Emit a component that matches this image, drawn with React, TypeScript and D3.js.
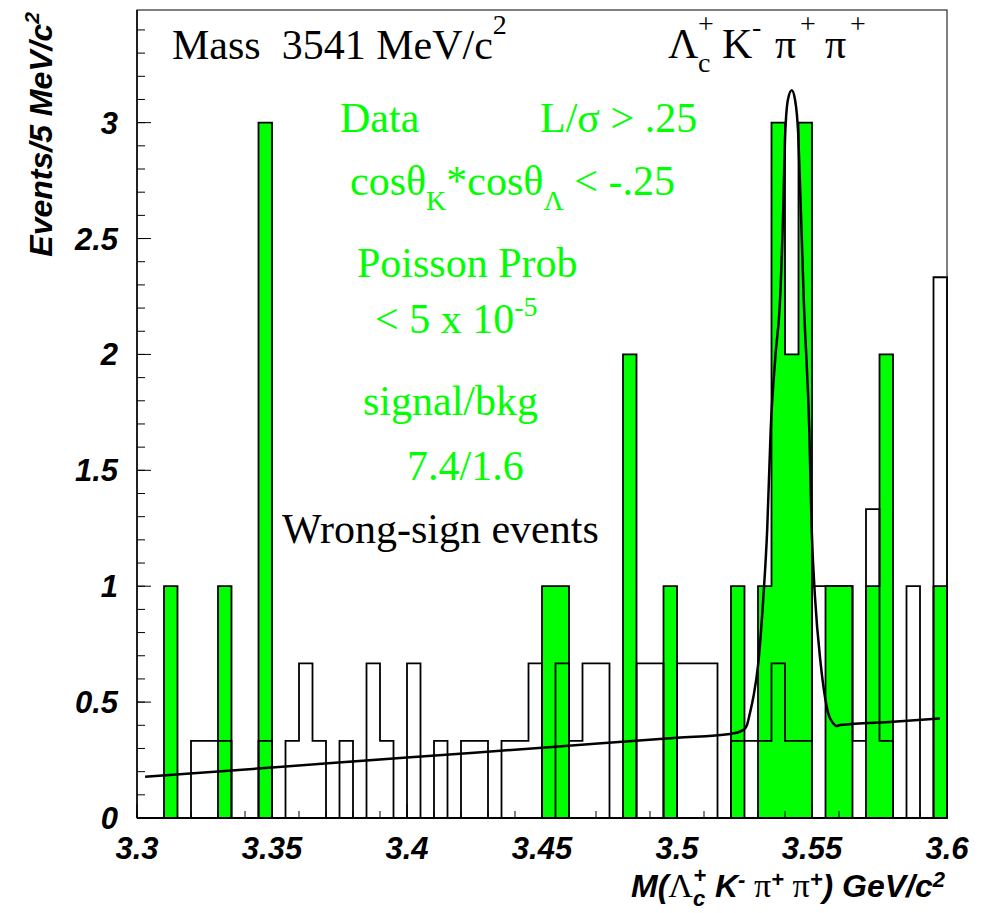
import React from "react";
import * as d3 from "d3";

// histogram binning: 60 bins of 5 MeV from 3.3 to 3.6 GeV
const binLow = 3.3;
const binWidth = 0.005;

// data (right-sign) events per bin
const dataCounts = [
  0, 0, 1, 0, 0, 0, 1, 0, 0, 3,
  0, 0, 0, 0, 0, 0, 0, 0, 0, 0,
  0, 0, 0, 0, 0, 0, 0, 0, 0, 0,
  1, 1, 0, 0, 0, 0, 2, 0, 0, 1,
  0, 0, 0, 0, 1, 0, 1, 3, 2, 3,
  0, 1, 1, 0, 1, 2, 0, 0, 0, 1,
];

// wrong-sign events per bin (normalised, in thirds of an event)
const wrongSign = [
  0, 0, 0, 0, 0.333, 0.333, 0.333, 0, 0, 0.333,
  0, 0.333, 0.667, 0.333, 0, 0.333, 0, 0.667, 0.333, 0,
  0.667, 0, 0.333, 0, 0.333, 0.333, 0, 0.333, 0.333, 0.667,
  0, 0.667, 0.333, 0.667, 0.667, 0, 0, 0.667, 0.667, 0,
  0.667, 0.667, 0.667, 0, 0.333, 0.333, 0.333, 0.667, 0.333, 0.333,
  1, 1, 1, 0.333, 1.333, 0.333, 0, 1, 0, 2.333,
];

// fit curve (linear background + signal peak)
const fitMass = [
  3.303, 3.35, 3.4, 3.45, 3.5, 3.5196, 3.5246, 3.5259, 3.527, 3.5283,
  3.5301, 3.532, 3.5334, 3.5347, 3.5365, 3.5381, 3.5394, 3.54, 3.5411, 3.5425,
  3.5437, 3.5449, 3.5458, 3.547, 3.549, 3.5499, 3.5511, 3.5532, 3.5548, 3.556,
  3.5579, 3.5592, 3.5604, 3.58, 3.5974,
];
const fitEvents = [
  0.178, 0.218, 0.261, 0.303, 0.346, 0.362, 0.38, 0.4, 0.452, 0.523,
  0.667, 0.955, 1.242, 1.674, 2.0, 2.22, 2.65, 2.93, 3.1, 3.14,
  3.1, 2.95, 2.65, 2.22, 1.674, 1.242, 0.955, 0.667, 0.523, 0.452,
  0.408, 0.397, 0.401, 0.415, 0.429,
];

const xTicks = [3.3, 3.35, 3.4, 3.45, 3.5, 3.55, 3.6];
const xTickLabels = ["3.3", "3.35", "3.4", "3.45", "3.5", "3.55", "3.6"];
const yTicks = [0, 0.5, 1, 1.5, 2, 2.5, 3];
const yTickLabels = ["0", "0.5", "1", "1.5", "2", "2.5", "3"];

const GREEN = "#00ff00";
const SERIF = "'Liberation Serif', 'Times New Roman', serif";
const SANS = "'Liberation Sans', Arial, sans-serif";

export default function App() {
  const left = 137, right = 947, top = 10, bottom = 818;
  const x = d3.scaleLinear().domain([3.3, 3.6]).range([left, right]);
  const y = d3.scaleLinear().domain([0, 3.486]).range([bottom, top]);

  const binPoints = (vals: number[]) => {
    const pts: [number, number][] = vals.map((v, i) => [binLow + i * binWidth, v]);
    pts.push([binLow + vals.length * binWidth, vals[vals.length - 1]]);
    return pts;
  };

  const area = d3.area<[number, number]>()
    .x(d => x(d[0]))
    .y0(y(0))
    .y1(d => y(d[1]))
    .curve(d3.curveStepAfter);

  const step = d3.line<[number, number]>()
    .x(d => x(d[0]))
    .y(d => y(d[1]))
    .curve(d3.curveStepAfter);

  // close the wrong-sign contour down to zero at both ends
  const wsPts = binPoints(wrongSign);
  const wsPath = `M${x(binLow)},${y(0)}` + step(wsPts)!.replace(/^M/, "L") + `L${x(3.6)},${y(0)}`;

  const fitLine = d3.line<number>()
    .x((d, i) => x(fitMass[i]))
    .y(d => y(d))
    .curve(d3.curveMonotoneX);

  const yMinor = d3.range(0, 3.45, 0.1);
  const xMinor = d3.range(0, 31).map(i => 3.3 + i * 0.01);

  return (
    <svg width={982} height={913} style={{ position: "absolute", left: 0, top: 0, background: "#fff" }}>
      <rect x={0} y={0} width={982} height={913} fill="#fff" />

      {/* data histogram */}
      <path d={area(binPoints(dataCounts))!} fill={GREEN} stroke="#000" strokeWidth={1.8} />
      {/* wrong-sign histogram */}
      <path d={wsPath} fill="none" stroke="#000" strokeWidth={1.8} />
      {/* fit */}
      <path d={fitLine(fitEvents)!} fill="none" stroke="#000" strokeWidth={2.5} />

      {/* frame */}
      <rect x={left} y={top} width={right - left} height={bottom - top} fill="none" stroke="#000" strokeWidth={1} />
      <line x1={left} x2={left} y1={top} y2={bottom} stroke="#000" strokeWidth={1.5} />
      <line x1={left} x2={right} y1={bottom} y2={bottom} stroke="#000" strokeWidth={1.5} />

      {/* y ticks */}
      {yMinor.map((v, i) => (
        <line key={"ym" + i} x1={left} x2={left + 8} y1={y(v)} y2={y(v)} stroke="#000" strokeWidth={1} />
      ))}
      {yTicks.map((v, i) => (
        <g key={"yt" + i}>
          <line x1={left} x2={left + 14} y1={y(v)} y2={y(v)} stroke="#000" strokeWidth={1} />
          <text x={118} y={y(v) + 11} textAnchor="end" fontFamily={SANS} fontWeight="bold" fontStyle="italic" fontSize={31}>
            {yTickLabels[i]}
          </text>
        </g>
      ))}

      {/* x ticks */}
      {xMinor.map((v, i) => (
        <line key={"xm" + i} x1={x(v)} x2={x(v)} y1={bottom} y2={bottom - 7} stroke="#000" strokeWidth={1} />
      ))}
      {xTicks.map((v, i) => (
        <g key={"xt" + i}>
          <line x1={x(v)} x2={x(v)} y1={bottom} y2={bottom - 14} stroke="#000" strokeWidth={1} />
          <text x={x(v)} y={859} textAnchor="middle" fontFamily={SANS} fontWeight="bold" fontStyle="italic" fontSize={31}>
            {xTickLabels[i]}
          </text>
        </g>
      ))}

      {/* y title */}
      <text transform="translate(52,12) rotate(-90)" textAnchor="end" fontFamily={SANS} fontWeight="bold" fontStyle="italic" fontSize={32}>
        Events/5 MeV/c<tspan fontSize={21} dy={-13}>2</tspan>
      </text>

      {/* x title */}
      <text x={945} y={897} textAnchor="end" fontFamily={SANS} fontWeight="bold" fontStyle="italic" fontSize={32}>
        M(<tspan fontFamily={SERIF} fontWeight="normal" fontStyle="normal" fontSize={34}>Λ</tspan>
        <tspan fontSize={22} dy={9}>c</tspan>
        <tspan fontSize={22} dx={-12} dy={-23}>+</tspan>
        <tspan dy={14}> K</tspan>
        <tspan fontSize={22} dy={-10}>-</tspan>
        <tspan fontFamily={SERIF} fontWeight="normal" fontStyle="normal" fontSize={34} dy={10}> π</tspan>
        <tspan fontSize={22} dy={-10}>+</tspan>
        <tspan fontFamily={SERIF} fontWeight="normal" fontStyle="normal" fontSize={34} dy={10}> π</tspan>
        <tspan fontSize={22} dy={-10}>+</tspan>
        <tspan dy={10}>) GeV/c</tspan>
        <tspan fontSize={22} dy={-10}>2</tspan>
      </text>

      {/* header */}
      <text x={172} y={59} fontFamily={SERIF} fontSize={42} style={{ whiteSpace: "pre" }}>
        Mass  3541 MeV/c<tspan fontSize={28} dy={-25}>2</tspan>
      </text>
      <g fontFamily={SERIF}>
        <text x={668} y={58} fontSize={42}>Λ</text>
        <text x={698} y={72} fontSize={28}>c</text>
        <text x={698} y={33} fontSize={28}>+</text>
        <text x={722} y={58} fontSize={42}>K</text>
        <text x={752} y={36} fontSize={28}>-</text>
        <text x={775} y={58} fontSize={42}>π</text>
        <text x={800} y={33} fontSize={28}>+</text>
        <text x={825} y={58} fontSize={42}>π</text>
        <text x={850} y={33} fontSize={28}>+</text>
      </g>

      {/* selection text */}
      <g fontFamily={SERIF} fontSize={42} fill={GREEN}>
        <text x={340} y={132}>Data</text>
        <text x={540} y={132}>L/σ &gt; .25</text>
        <text x={350} y={195}>
          cosθ<tspan fontSize={28} dy={15}>K</tspan>
          <tspan dy={-15}>*cosθ</tspan>
          <tspan fontSize={28} dy={15}>Λ</tspan>
          <tspan dy={-15}> &lt; -.25</tspan>
        </text>
        <text x={357} y={277}>Poisson Prob</text>
        <text x={375} y={333}>
          &lt; 5 x 10<tspan fontSize={28} dy={-17}>-5</tspan>
        </text>
        <text x={363} y={415}>signal/bkg</text>
        <text x={407} y={480}>7.4/1.6</text>
      </g>
      <text x={282} y={543} fontFamily={SERIF} fontSize={42} fill="#000">Wrong-sign events</text>
    </svg>
  );
}
